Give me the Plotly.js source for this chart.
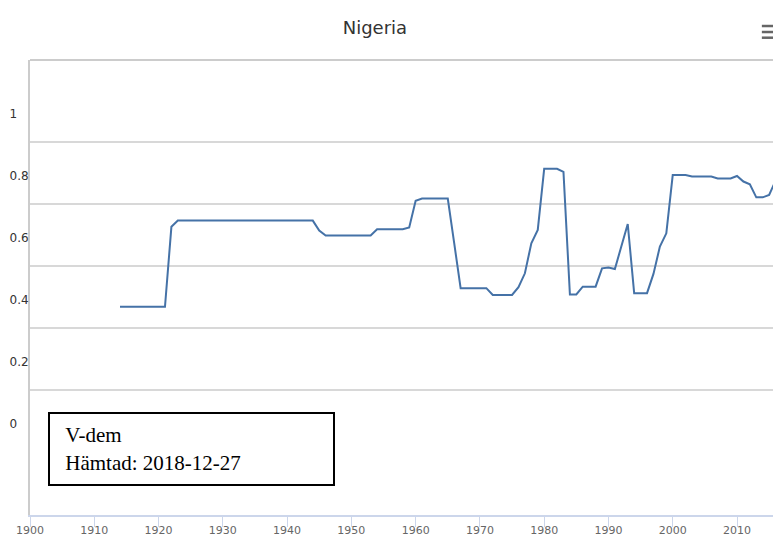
<!DOCTYPE html>
<html>
<head>
<meta charset="utf-8">
<script src="https://cdn.plot.ly/plotly-3.0.1.min.js"></script>
<style>html,body{margin:0;padding:0;background:#fff;}#chart{width:773px;height:536px;}</style>
</head>
<body>
<div id="chart"></div>
<script>
const years = [1914,1915,1916,1917,1918,1919,1920,1921,1922,1923,1924,1925,1926,1927,1928,1929,1930,
  1931,1932,1933,1934,1935,1936,1937,1938,1939,1940,1941,1942,1943,1944,1945,1946,1947,1948,1949,1950,
  1951,1952,1953,1954,1955,1956,1957,1958,1959,1960,1961,1962,1963,1964,1965,1966,1967,1968,1969,1970,
  1971,1972,1973,1974,1975,1976,1977,1978,1979,1980,1981,1982,1983,1984,1985,1986,1987,1988,1989,1990,
  1991,1992,1993,1994,1995,1996,1997,1998,1999,2000,2001,2002,2003,2004,2005,2006,2007,2008,2009,2010,
  2011,2012,2013,2014,2015,2016];
const values = [0.470,0.470,0.470,0.470,0.470,0.470,0.470,0.470,0.728,0.748,0.748,0.748,0.748,0.748,0.748,0.748,0.748,
  0.748,0.748,0.748,0.748,0.748,0.748,0.748,0.748,0.748,0.748,0.748,0.748,0.748,0.748,0.716,0.700,0.700,0.700,0.700,0.700,
  0.700,0.700,0.700,0.720,0.720,0.720,0.720,0.720,0.726,0.812,0.819,0.819,0.819,0.819,0.819,0.675,0.530,0.530,0.530,0.530,
  0.530,0.508,0.508,0.508,0.508,0.533,0.578,0.675,0.718,0.915,0.915,0.915,0.905,0.510,0.510,0.535,0.535,0.535,0.594,0.597,
  0.592,0.665,0.737,0.514,0.514,0.514,0.576,0.664,0.707,0.895,0.895,0.895,0.890,0.890,0.890,0.890,0.884,0.884,0.884,0.892,
  0.874,0.865,0.823,0.823,0.831,0.876];
const yTickVals = [0, 0.2, 0.4, 0.6, 0.8, 1];
const yTickText = ['0\u00a0\u00a0\u00a0', '0.2', '0.4', '0.6', '0.8', '1\u00a0\u00a0\u00a0'];
const chartTitle = 'Nigeria';
const sourceText = '\u00a0V-dem<br>\u00a0Hämtad: 2018-12-27';

const trace = {
  x: years, y: values, type: 'scatter', mode: 'lines',
  line: {color: '#4572a7', width: 2},
  hoverinfo: 'x+y'
};

const layout = {
  width: 773, height: 536,
  margin: {l: 30, r: 0, t: 60, b: 21, pad: 0},
  paper_bgcolor: '#fff', plot_bgcolor: '#fff',
  showlegend: false,
  title: {text: chartTitle, x: 0.485, xanchor: 'center', xref: 'container',
          y: 1 - 28/536, yanchor: 'middle', yref: 'container',
          font: {family: 'DejaVu Sans', size: 18, color: '#333'}},
  xaxis: {
    range: [1900, 2015.6], tick0: 1900, dtick: 10, tickmode: 'linear',
    showgrid: false, zeroline: false,
    showline: true, linecolor: '#ccd6eb', linewidth: 2,
    ticks: 'outside', ticklen: 10, tickwidth: 1, tickcolor: '#ccd6eb',
    ticklabelstandoff: -6,
    tickfont: {family: 'DejaVu Sans', size: 11, color: '#666'},
    fixedrange: true
  },
  yaxis: {
    range: [-0.2016, 1.266], tickmode: 'array', tickvals: yTickVals, ticktext: yTickText,
    showgrid: true, gridcolor: '#d8d8d8', gridwidth: 2,
    zeroline: true, zerolinecolor: 'rgba(255,255,255,0)', zerolinewidth: 1,
    showline: true, linecolor: '#cccccc', linewidth: 2,
    ticks: '', ticklabelshift: -29, ticklabelstandoff: -3,
    tickfont: {family: 'DejaVu Sans', size: 12, color: '#333'},
    fixedrange: true
  },
  shapes: [
    {type: 'line', xref: 'paper', yref: 'paper', x0: 0, x1: 1, y0: 1, y1: 1,
     line: {color: '#cccccc', width: 2}},
    {type: 'line', xref: 'paper', yref: 'paper', x0: 0.985, x1: 1.0, y0: 1.0747, y1: 1.0747,
     line: {color: '#666', width: 2.5}},
    {type: 'line', xref: 'paper', yref: 'paper', x0: 0.985, x1: 1.0, y0: 1.0615, y1: 1.0615,
     line: {color: '#666', width: 2.5}},
    {type: 'line', xref: 'paper', yref: 'paper', x0: 0.985, x1: 1.0, y0: 1.0490, y1: 1.0490,
     line: {color: '#666', width: 2.5}}
  ],
  annotations: [{
    text: sourceText, showarrow: false, xref: 'paper', yref: 'paper',
    x: 0.0242, xanchor: 'left', y: 0.2264, yanchor: 'top',
    align: 'left', valign: 'middle', width: 263, height: 50,
    bgcolor: '#fff', bordercolor: '#000', borderwidth: 2, borderpad: 10,
    font: {family: 'Liberation Serif', size: 21, color: '#000'}
  }]
};

Plotly.newPlot('chart', [trace], layout, {displayModeBar: false, staticPlot: true});
</script>
</body>
</html>
